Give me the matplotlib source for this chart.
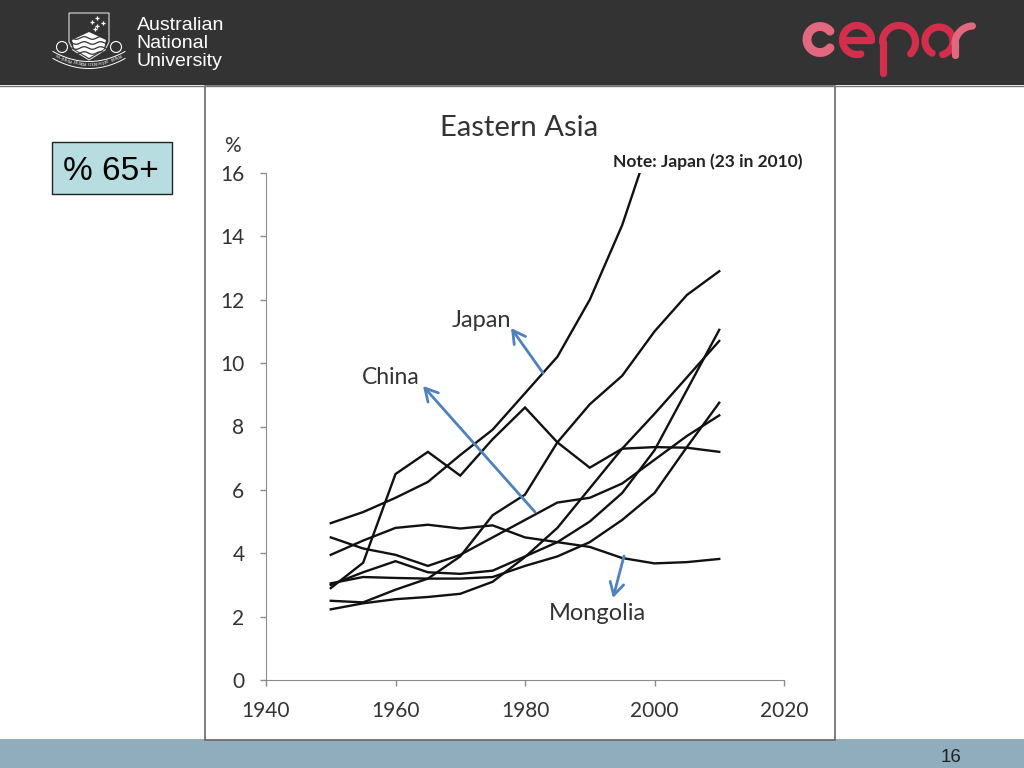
from matplotlib import pyplot as plt
from matplotlib.patches import Rectangle, Polygon, Ellipse
import numpy as np

years = [1950, 1955, 1960, 1965, 1970, 1975, 1980, 1985, 1990, 1995, 2000, 2005, 2010]

# values, only Japan and Mongolia are labelled
japan = [4.95, 5.3, 5.75, 6.25, 7.1, 7.9, 9.05, 10.2, 12.0, 14.35, 17.4, 20.0, 23.0]
mongolia = [3.95, 4.4, 4.8, 4.9, 4.78, 4.88, 4.5, 4.35, 4.2, 3.85, 3.68, 3.72, 3.82]
spike = [2.9, 3.7, 6.5, 7.2, 6.45, 7.6, 8.6, 7.5, 6.7, 7.3, 7.35, 7.33, 7.2]
upper = [2.5, 2.45, 2.85, 3.2, 3.9, 5.2, 5.85, 7.5, 8.7, 9.6, 11.0, 12.15, 12.9]
bump = [3.0, 3.4, 3.75, 3.4, 3.35, 3.45, 3.9, 4.35, 5.0, 5.9, 7.25, 9.15, 11.05]
low = [2.23, 2.42, 2.55, 2.62, 2.72, 3.1, 3.88, 4.8, 6.05, 7.3, 8.4, 9.55, 10.7]
flat = [3.05, 3.25, 3.22, 3.2, 3.2, 3.25, 3.6, 3.9, 4.35, 5.05, 5.9, 7.35, 8.75]
dip = [4.5, 4.15, 3.95, 3.6, 3.95, 4.5, 5.05, 5.6, 5.75, 6.2, 6.95, 7.7, 8.35]
series = [japan, mongolia, spike, upper, bump, low, flat, dip]

x_ticks = [1940, 1960, 1980, 2000, 2020]
y_ticks = [0, 2, 4, 6, 8, 10, 12, 14, 16]

W, H = 1024, 768
fig = plt.figure(figsize = (10.24, 7.68), dpi = 100, facecolor = 'white')

# page furniture is laid out in pixels of the slide
bg = fig.add_axes([0, 0, 1, 1])
bg.set_xlim(0, W)
bg.set_ylim(H, 0)
bg.axis('off')

bg.add_patch(Rectangle((0, 0), W, 85, fc = '#333333', ec = 'none'))
bg.plot([0, W], [85.5, 85.5], color = '#777777', lw = 1)
bg.add_patch(Rectangle((0, 739), W, 29, fc = '#8fadbc', ec = 'none'))
bg.add_patch(Rectangle((205, 85.5), 630, 654, fc = 'white', ec = '#666666', lw = 1.2))
bg.add_patch(Rectangle((52, 141.5), 119.5, 52, fc = '#b7dde0', ec = '#222222', lw = 1))
bg.text(110.5, 171, '% 65+', family = 'Liberation Sans', fontsize = 24, color = 'black', ha = 'center', va = 'center')
bg.text(951, 757, '16', family = 'Liberation Sans', fontsize = 13.5, color = '#222222', ha = 'center', va = 'center')

# ANU name and crest
for label, ty in zip(['Australian', 'National', 'University'], [25.5, 43.5, 61.5]):
	bg.text(136.5, ty, label, family = 'Liberation Sans', fontsize = 14, color = 'white', ha = 'left', va = 'center')
bg.add_patch(Polygon([(69, 13), (109, 13), (109, 42), (105, 50), (89, 60), (73, 50), (69, 42)], fc = 'none', ec = '#dddddd', lw = 0.8))
bg.add_patch(Polygon([(72, 40), (89, 32), (106, 40), (104, 49), (89, 58), (74, 49)], fc = 'white', ec = 'none'))
for wy in [38, 43, 48, 53]:
	wave_x = np.linspace(72, 106, 30)
	bg.plot(wave_x, wy + 1.3 * np.sin((wave_x - 72) / 2.6), color = '#333333', lw = 0.9)
bg.plot([97, 92, 103, 97, 95], [18, 22, 23, 26, 29], ls = 'none', marker = '+', ms = 3.5, mew = 0.9, color = 'white')
bg.add_patch(Ellipse((62, 47), 11, 11, fc = 'none', ec = 'white', lw = 0.8))
bg.add_patch(Ellipse((116, 47), 11, 11, fc = 'none', ec = 'white', lw = 0.8))
band_x = np.linspace(53, 125, 50)
band_y = 65 - 10 * ((band_x - 89) / 36) ** 2
bg.plot(band_x, band_y - 3.5, color = 'white', lw = 0.7)
bg.plot(band_x, band_y + 3.5, color = 'white', lw = 0.7)
motto = 'NATURAM PRIMUM COGNOSCERE RERUM'
for i, ch in enumerate(motto):
	mx = 57 + i * 64 / (len(motto) - 1)
	my = 65 - 10 * ((mx - 89) / 36) ** 2
	bg.text(mx, my, ch, family = 'Liberation Serif', fontsize = 2.8, color = 'white', ha = 'center', va = 'center',
		rotation = np.degrees(np.arctan(20 * (mx - 89) / 36 ** 2)))

# cepar logo, strokes with round ends
red = '#d32f4c'
pink = '#e2687f'
cepar = dict(color = red, solid_capstyle = 'round', lw = 5.2)
def ring(cx, cy, r, t0, t1, **kw):
	t = np.radians(np.linspace(t0, t1, 60))
	style = dict(cepar)
	style.update(kw)
	bg.plot(cx + r * np.cos(t), cy - r * np.sin(t), **style)
ring(820, 39.5, 13, 40, 320, color = pink, lw = 6.4)
ring(857, 40, 14.5, 0, 285)
bg.plot([847, 871], [39.5, 39.5], **cepar)
ring(899, 42, 16.5, -45, 180)
bg.plot([882.5, 882.5], [42, 73], **cepar)
ring(939, 41, 14, -75, 240)
bg.plot([955, 955], [43, 55], color = pink, lw = 5.2, solid_capstyle = 'round')
ring(973, 44, 18, 92, 180, color = pink)

# chart, its box matches the tick positions in the picture
ax = fig.add_axes([266 / W, 1 - 680 / H, (784 - 266) / W, (680 - 173) / H])
ax.patch.set_alpha(0)
for s in series:
	ax.plot(years, s, color = '#111111', lw = 1.7, solid_joinstyle = 'miter')
ax.set_xlim(1940, 2020)
ax.set_ylim(0, 16)
ax.set_xticks(x_ticks)
ax.set_yticks(y_ticks)
ax.spines['top'].set_visible(False)
ax.spines['right'].set_visible(False)
ax.spines['left'].set_color('#8c8c8c')
ax.spines['bottom'].set_color('#8c8c8c')
ax.tick_params(color = '#8c8c8c', length = 4.5, width = 1, labelcolor = '#333333', labelsize = 15)
ax.tick_params(axis = 'x', pad = 10.5)
ax.tick_params(axis = 'y', pad = 11)
for t in ax.get_xticklabels() + ax.get_yticklabels():
	t.set_family('Lato')

# text and arrows over the chart
top = fig.add_axes([0, 0, 1, 1])
top.set_xlim(0, W)
top.set_ylim(H, 0)
top.axis('off')
top.patch.set_alpha(0)
top.text(519.5, 127.5, 'Eastern Asia', family = 'Lato', fontsize = 21, color = '#333333', ha = 'center', va = 'center')
top.text(232, 146, '%', family = 'Lato', fontsize = 15, color = '#333333', ha = 'center', va = 'center')
top.text(708, 162, 'Note: Japan (23 in 2010)', family = 'Lato', fontsize = 12.5, weight = 'bold', color = '#222222', ha = 'center', va = 'center')
top.text(481, 320.5, 'Japan', family = 'Lato', fontsize = 17, color = '#333333', ha = 'center', va = 'center')
top.text(390.5, 377.5, 'China', family = 'Lato', fontsize = 16.5, color = '#333333', ha = 'center', va = 'center')
top.text(597, 613.5, 'Mongolia', family = 'Lato', fontsize = 17, color = '#333333', ha = 'center', va = 'center')
arrows = [((543, 373), (511, 328)), ((535, 512), (423, 386)), ((624, 556), (613, 598))]
for start, end in arrows:
	top.annotate('', xy = end, xytext = start, arrowprops = dict(arrowstyle = '->,head_length=0.9,head_width=0.5', color = '#4f81bd', lw = 2, shrinkA = 0, shrinkB = 0))

plt.savefig('out.png', dpi = 100)
